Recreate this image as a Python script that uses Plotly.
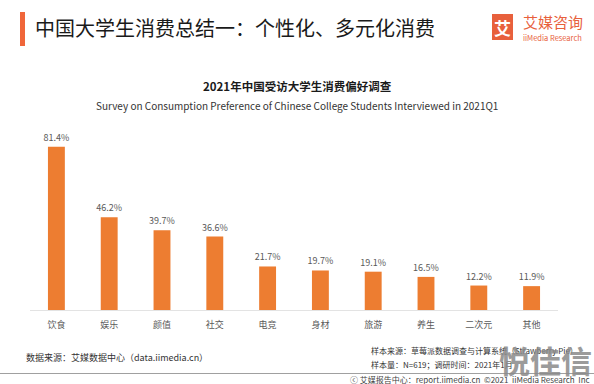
import plotly.graph_objects as go

categories = ["饮食", "娱乐", "颜值", "社交", "电竞", "身材", "旅游", "养生", "二次元", "其他"]
values = [81.4, 46.2, 39.7, 36.6, 21.7, 19.7, 19.1, 16.5, 12.2, 11.9]
value_labels = [f"{v:.1f}%" for v in values]

W, H = 594, 384
ML, MR, MT, MB = 30, 36, 130, 74
PW, PH = W - ML - MR, H - MT - MB

def px(x):
    return (x - ML) / PW

def py(y):
    return (H - MB - y) / PH

FONT = "Noto Sans CJK SC"
ORANGE = "#ED7D31"

fig = go.Figure(go.Bar(
    x=categories, y=values, text=value_labels, textposition="outside",
    constraintext="none",
    textfont=dict(size=9, color="#595959", family=FONT),
    marker=dict(color=ORANGE, line=dict(width=0)),
    cliponaxis=False,
))

fig.update_layout(
    width=W, height=H, margin=dict(l=ML, r=MR, t=MT, b=MB),
    paper_bgcolor="white", plot_bgcolor="white", showlegend=False,
    bargap=0.68, font=dict(family=FONT),
    xaxis=dict(showgrid=False, showline=True, linecolor="#e3e3e3", linewidth=1,
               ticks="", ticklabelstandoff=6,
               tickfont=dict(size=9, color="#595959", family=FONT)),
    yaxis=dict(visible=False, range=[0, PH / 2.006]),
)

shapes = [
    dict(type="rect", xref="paper", yref="paper", x0=px(20), x1=px(25), y0=py(46), y1=py(12),
         fillcolor="#F0663A", line=dict(width=0)),
    dict(type="rect", xref="paper", yref="paper", x0=px(492), x1=px(513), y0=py(40), y1=py(14),
         fillcolor="#E8603C", line=dict(width=0)),
    dict(type="line", xref="paper", yref="paper", x0=px(0), x1=px(594), y0=py(373.5), y1=py(373.5),
         line=dict(color="#a0a0a0", width=1.2)),
]
fig.update_layout(shapes=shapes)

ann = []
def add(text, x, y, size, color="#222", xanchor="left", yanchor="middle", bold=False, opacity=1):
    if bold:
        text = f"<b>{text}</b>"
    ann.append(dict(text=text, x=px(x), y=py(y), xref="paper", yref="paper", showarrow=False,
                    xanchor=xanchor, yanchor=yanchor, opacity=opacity,
                    font=dict(size=size, color=color, family=FONT)))

add("中国大学生消费总结一：个性化、多元化消费", 33, 27.5, 20, "#1a1a1a")
add("艾", 502.5, 27.5, 17, "white", xanchor="center", bold=True)
add("艾媒咨询", 521, 21.5, 15, "#E8603C")
add("iiMedia Research", 521, 37, 7.5, "#E8603C")
add("2021年中国受访大学生消费偏好调查", 297, 86, 11.5, "#1a1a1a", xanchor="center", bold=True)
add("Survey on Consumption Preference of Chinese College Students Interviewed in 2021Q1", 297, 105,
    10, "#333", xanchor="center")
add("数据来源：艾媒数据中心（data.iimedia.cn）", 24, 357.5, 9, "#333")
add("样本来源：草莓派数据调查与计算系统（Strawberry Pie）", 369, 350, 8, "#333")
add("样本量：N=619；调研时间：2021年1月", 369, 364, 8, "#333")
add("ⓒ 艾媒报告中心：report.iimedia.cn  ©2021  iiMedia Research  Inc", 592, 379.5, 8, "#444", xanchor="right")
add("悦佳信", 545, 359, 31, "#8a8a8a", xanchor="center", bold=True, opacity=0.85)

fig.update_layout(annotations=ann)
fig.write_html("out.html", config={"displayModeBar": False},
               post_script="document.body.style.margin='0';document.body.style.overflow='hidden';")
